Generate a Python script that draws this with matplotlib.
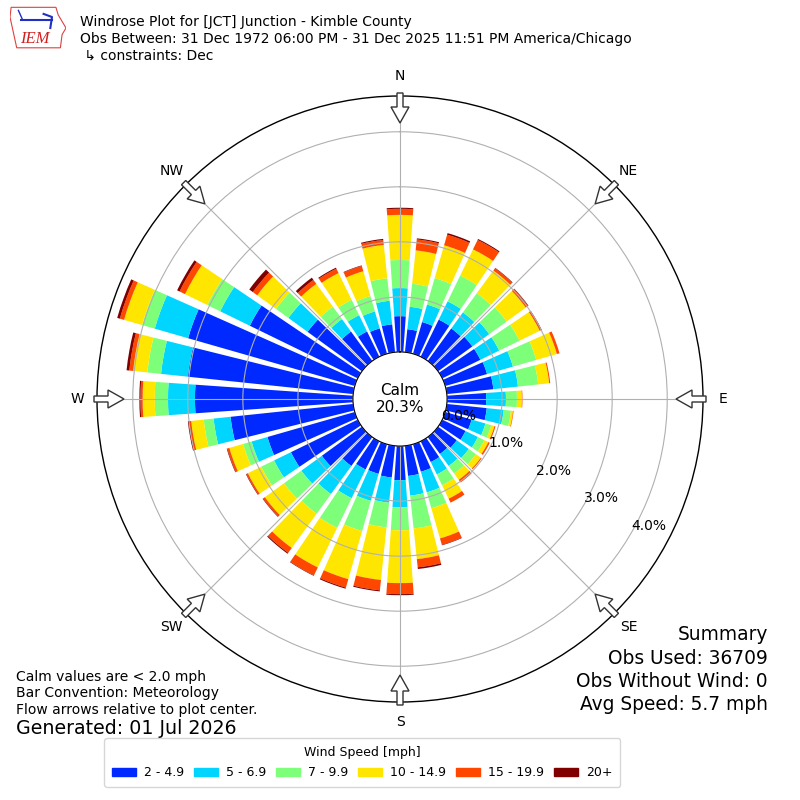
import numpy as np
import matplotlib
matplotlib.use("Agg")
import matplotlib.pyplot as plt
from matplotlib.patches import FancyArrow, Patch, Polygon

# direction bins (degrees, meteorological)
directions = list(range(0, 360, 10))

# percent of all obs per direction, one list per speed bin
spd_2_5 = [0.65, 0.42, 0.60, 0.75, 0.73, 0.77, 0.77, 0.79, 0.85, 0.71, 0.73, 0.50,
           0.47, 0.42, 0.38, 0.42, 0.52, 0.55, 0.62, 0.58, 0.56, 0.57, 0.65, 0.90,
           1.35, 1.65, 2.24, 2.87, 3.02, 3.15, 2.18, 1.22, 0.66, 0.51, 0.48, 0.51]
spd_5_7 = [0.51, 0.41, 0.33, 0.37, 0.36, 0.38, 0.38, 0.49, 0.45, 0.36, 0.31, 0.26,
           0.25, 0.27, 0.27, 0.25, 0.39, 0.36, 0.49, 0.46, 0.51, 0.58, 0.63, 0.46,
           0.34, 0.30, 0.31, 0.49, 0.49, 0.63, 0.60, 0.43, 0.28, 0.33, 0.32, 0.43]
spd_7_10 = [0.51, 0.42, 0.50, 0.52, 0.43, 0.39, 0.41, 0.44, 0.37, 0.20, 0.13, 0.11,
            0.13, 0.16, 0.17, 0.22, 0.30, 0.60, 0.42, 0.45, 0.57, 0.60, 0.44, 0.39,
            0.26, 0.16, 0.18, 0.24, 0.25, 0.24, 0.26, 0.28, 0.28, 0.31, 0.29, 0.41]
spd_10_15 = [0.82, 0.61, 0.62, 0.53, 0.51, 0.43, 0.41, 0.39, 0.20, 0.09, 0.04, 0.06,
             0.08, 0.11, 0.14, 0.27, 0.57, 0.56, 0.96, 0.96, 0.91, 0.80, 0.77, 0.43,
             0.27, 0.26, 0.23, 0.22, 0.26, 0.34, 0.45, 0.42, 0.51, 0.54, 0.47, 0.61]
spd_15_20 = [0.11, 0.20, 0.20, 0.19, 0.05, 0.05, 0.03, 0.05, 0.02, 0.01, 0.01, 0.02,
             0.03, 0.02, 0.06, 0.08, 0.12, 0.15, 0.20, 0.19, 0.16, 0.16, 0.11, 0.04,
             0.03, 0.04, 0.04, 0.04, 0.07, 0.08, 0.11, 0.10, 0.09, 0.09, 0.10, 0.09]
spd_20p = [0.02, 0.02, 0.03, 0.02, 0.01, 0.01, 0.01, 0.00, 0.00, 0.00, 0.00, 0.00,
           0.00, 0.00, 0.00, 0.00, 0.01, 0.03, 0.02, 0.02, 0.02, 0.01, 0.02, 0.01,
           0.01, 0.01, 0.02, 0.02, 0.05, 0.05, 0.05, 0.08, 0.05, 0.02, 0.01, 0.02]

speed_bins = [spd_2_5, spd_5_7, spd_7_10, spd_10_15, spd_15_20, spd_20p]
speed_labels = ["2 - 4.9", "5 - 6.9", "7 - 9.9", "10 - 14.9", "15 - 19.9", "20+"]
calm_pct = 20.3
rings = [0, 1, 2, 3, 4]
compass = ["N", "NE", "E", "SE", "S", "SW", "W", "NW"]
compass_deg = [0, 45, 90, 135, 180, 225, 270, 315]

title_lines = [
    "Windrose Plot for [JCT] Junction - Kimble County",
    "Obs Between: 31 Dec 1972 06:00 PM - 31 Dec 2025 11:51 PM America/Chicago",
    " \u21b3 constraints: Dec",
]
notes = ["Calm values are < 2.0 mph", "Bar Convention: Meteorology",
         "Flow arrows relative to plot center."]
generated = "Generated: 01 Jul 2026"
summary = ["Summary", "Obs Used: 36709", "Obs Without Wind: 0", "Avg Speed: 5.7 mph"]

cmap = plt.get_cmap("jet")
colors = [cmap(v) for v in np.linspace(0, 1, 7)[1:]]

W = 800.0
CX, CY = 400.0, 401.0   # plot center in pixels, from bottom-left
R_OUT = 303.0

fig = plt.figure(figsize=(8, 8), dpi=100)
ax = fig.add_axes([(CX - R_OUT) / W, (CY - R_OUT) / W, 2 * R_OUT / W, 2 * R_OUT / W],
                  projection="polar")
ax.set_theta_zero_location("N")
ax.set_theta_direction(-1)

theta = np.deg2rad(directions)
bottom = np.zeros(len(directions))
for vals, col in zip(speed_bins, colors):
    ax.bar(theta, vals, width=np.deg2rad(8), bottom=bottom, color=col, linewidth=0)
    bottom += np.array(vals)

ax.set_ylim(0, 4.65)
ax.set_rorigin(-0.855)
ax.set_rticks(rings)
ax.yaxis.set_major_formatter(lambda v, p: "%.1f%%" % v)
ax.set_rlabel_position(120)
ax.tick_params(axis="y", labelsize=10)
ax.set_xticks(np.deg2rad(compass_deg))
ax.set_xticklabels([])
ax.grid(True, color="#b0b0b0", lw=0.8)
ax.spines["polar"].set_linewidth(1.0)
ax.text(0.5, 0.5, "Calm\n%.1f%%" % calm_pct, transform=ax.transAxes,
        ha="center", va="center", fontsize=11)

# compass labels and flow arrows
for lab, d in zip(compass, compass_deg):
    a = np.deg2rad(d)
    fig.text((CX + 323 * np.sin(a)) / W, (CY + 323 * np.cos(a)) / W, lab,
             ha="center", va="center", fontsize=10)
    x0 = (CX + 306 * np.sin(a)) / W
    y0 = (CY + 306 * np.cos(a)) / W
    dx = -30 * np.sin(a) / W
    dy = -30 * np.cos(a) / W
    fig.add_artist(FancyArrow(x0, y0, dx, dy, width=6 / W, head_width=18 / W,
                              head_length=16 / W, length_includes_head=True,
                              fc="white", ec="#333333", lw=1.0, zorder=5))

# header
for i, line in enumerate(title_lines):
    fig.text(80 / W, 1 - (26 + 16.7 * i) / W, line, fontsize=10, va="baseline")

# IEM logo (rough)
lax = fig.add_axes([10 / W, 1 - 50 / W, 56 / W, 44 / W])
lax.set_xlim(0, 1)
lax.set_ylim(0, 1)
lax.axis("off")
lax.add_patch(Polygon([(0.02, 0.97), (0.82, 0.97), (0.86, 0.8), (0.93, 0.65), (1.0, 0.5),
                       (0.93, 0.35), (0.9, 0.05), (0.12, 0.05), (0.06, 0.4), (0.0, 0.75)],
                      closed=True, fill=False, ec="#e04040", lw=0.8))
lax.plot([0.2, 0.75], [0.68, 0.68], color="#2030c0", lw=1.5)
lax.plot([0.15, 0.22], [0.9, 0.7], color="#2030c0", lw=1)
lax.plot([0.6, 0.75, 0.72], [0.82, 0.75, 0.5], color="#2030c0", lw=1.5)
lax.text(0.45, 0.25, "IEM", color="#d02020", fontsize=12, style="italic",
         family="Liberation Serif", ha="center", va="center")

# notes
for i, line in enumerate(notes):
    fig.text(16 / W, 1 - (677 + 16.5 * i) / W, line, fontsize=10, va="center")
fig.text(16 / W, 1 - 729 / W, generated, fontsize=13.7, va="center")
for i, line in enumerate(summary):
    fig.text(768 / W, 1 - (635 + 23.3 * i) / W, line, fontsize=13.4, va="center", ha="right")

handles = [Patch(color=c) for c in colors]
fig.legend(handles, speed_labels, ncol=6, loc="lower center",
           bbox_to_anchor=(362 / W, 7 / W), title="Wind Speed [mph]",
           fontsize=9, title_fontsize=9, handlelength=1.95, handleheight=0.65,
           handletextpad=0.65, columnspacing=0.75, borderpad=0.6, labelspacing=0.6)

fig.savefig("out.png", dpi=100)
